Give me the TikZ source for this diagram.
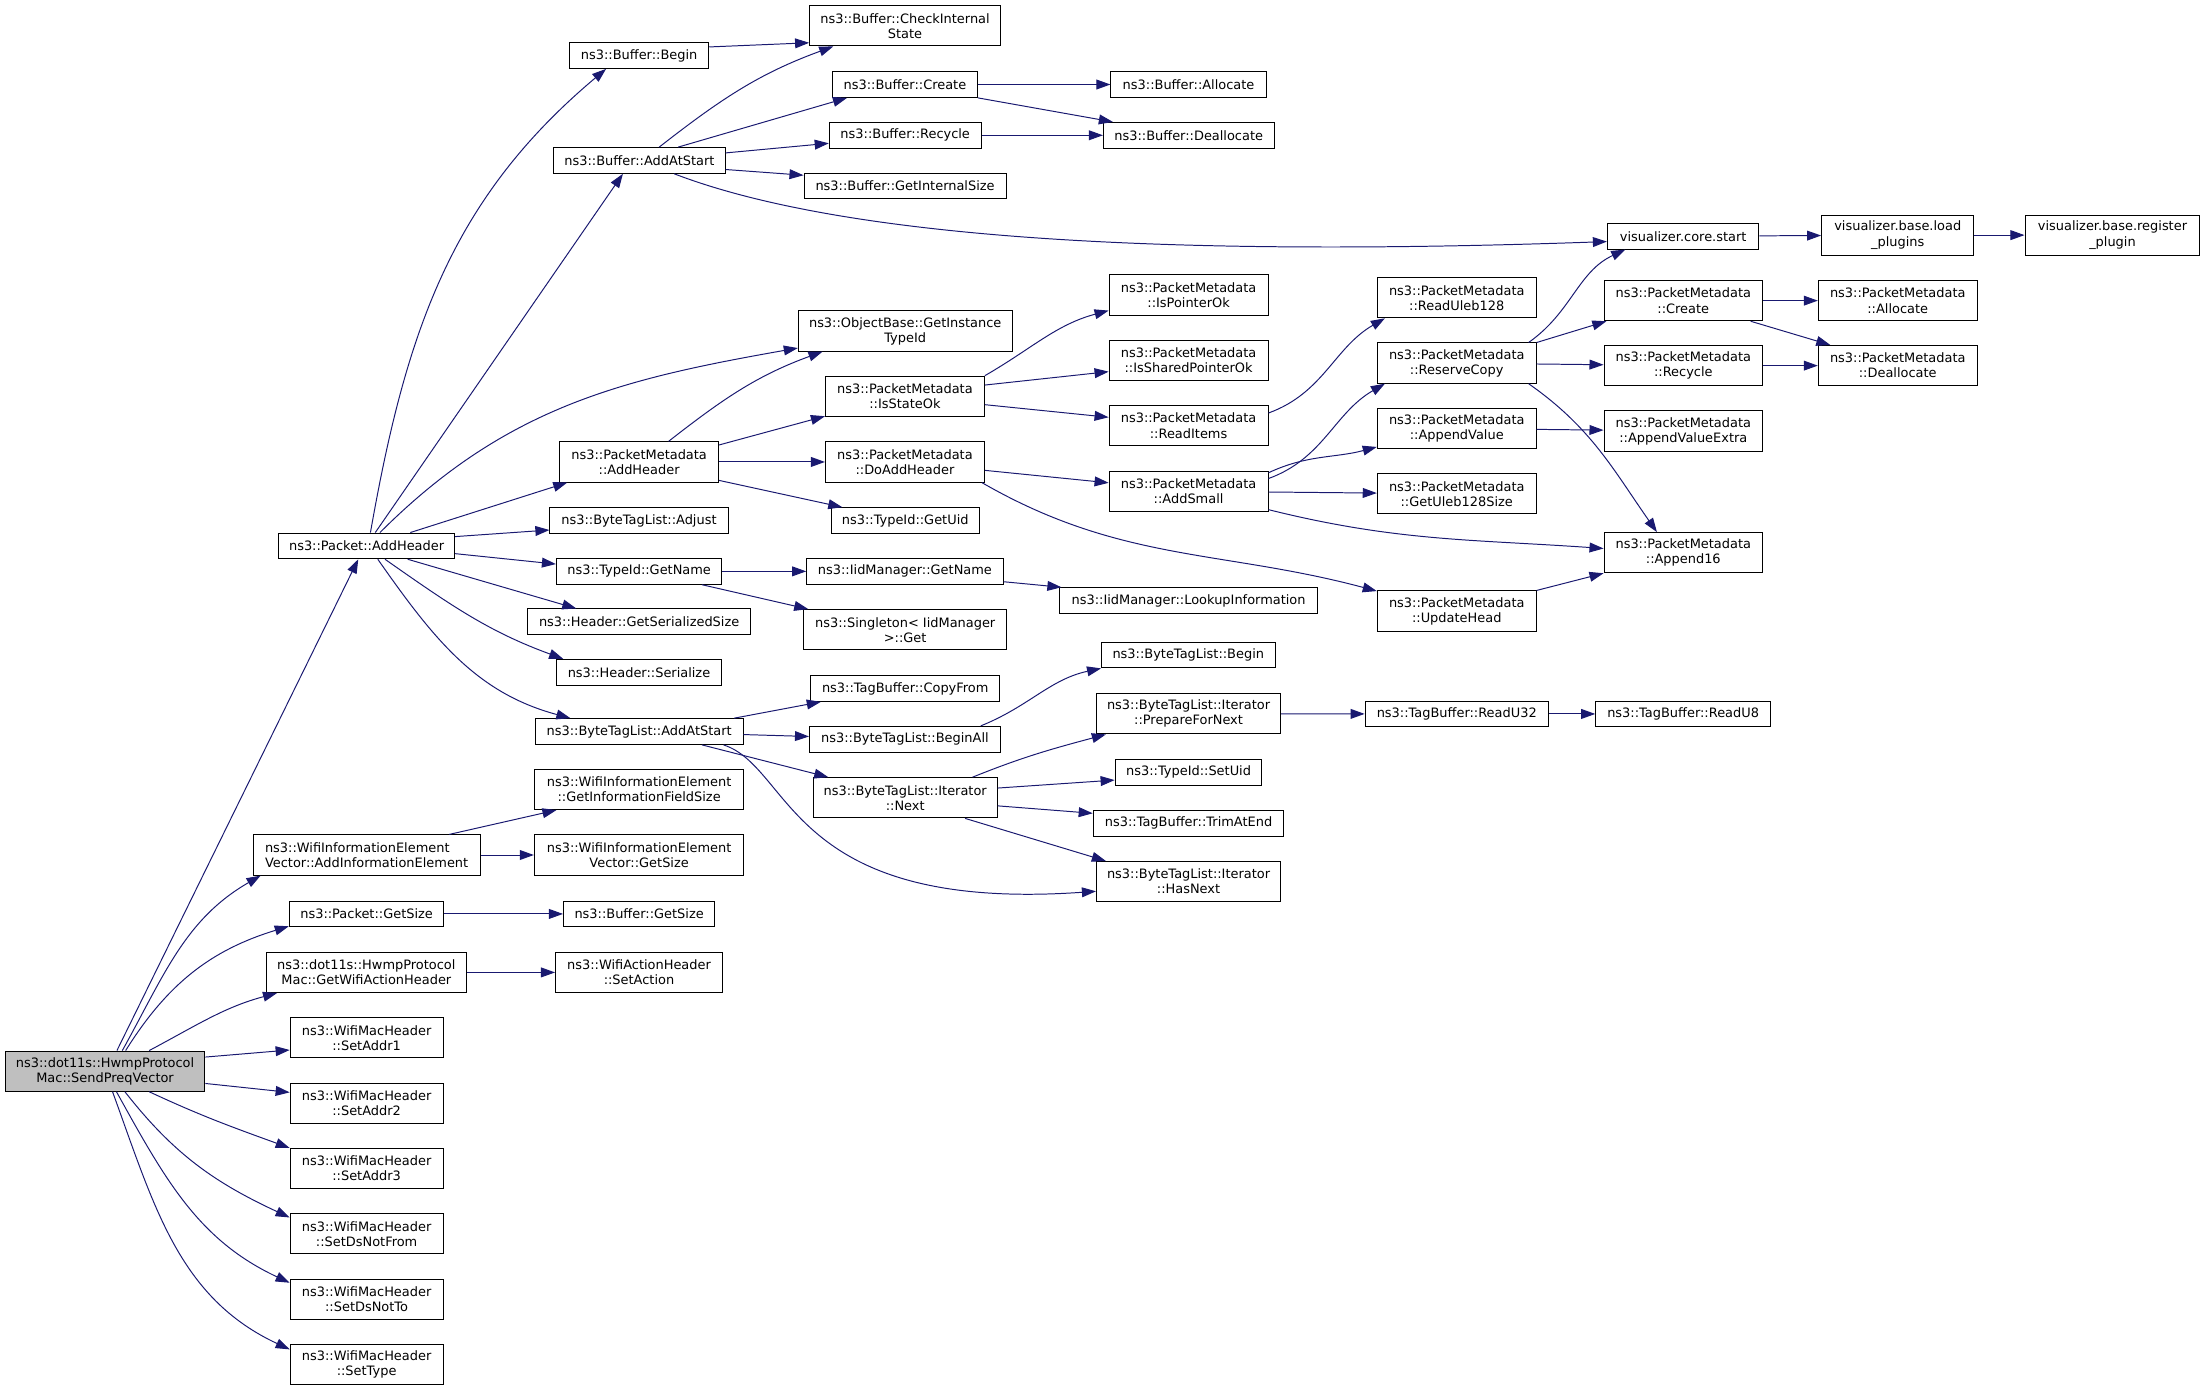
\documentclass[tikz,border=0pt]{standalone}
\usepackage{fontspec}
\setmainfont{DejaVu Sans}
\usepackage{xcolor}
\usepackage{tikz}
\usetikzlibrary{arrows.meta}
\definecolor{edgeblue}{HTML}{191970}
\definecolor{rootgray}{HTML}{BFBFBF}

\begin{document}
\begin{tikzpicture}[->,>={Triangle[length=10pt,width=7pt]},x=1pt,y=1pt]
  \tikzstyle{fn}=[draw=black,fill=white,line width=0.7pt,inner sep=1pt,minimum height=18.3pt,align=center,font=\fontsize{9.2}{10.7}\selectfont]
  \tikzstyle{fntwo}=[fn,minimum height=28.6pt]
  \tikzstyle{root}=[fntwo,fill=rootgray]
  \tikzstyle{every edge}=[draw=edgeblue,line width=0.7pt]

  \useasboundingbox (0,0) rectangle (1568,-989.2);

  % caller
  \node[root,minimum width=142pt]   (spv)   at (74.7,-761.7)  {ns3::dot11s::HwmpProtocol\\Mac::SendPreqVector};

  % first level
  \node[fn,minimum width=125.3pt]   (pah)   at (260.7,-388.2) {ns3::Packet::AddHeader};
  \node[fntwo,align=left,minimum width=161.3pt] (wiev) at (260.7,-608) {ns3::WifiInformationElement\\Vector::AddInformationElement};
  \node[fn,minimum width=110pt]     (pgs)   at (260.7,-649.9) {ns3::Packet::GetSize};
  \node[fntwo,minimum width=142.4pt] (gwah) at (260.5,-691.5) {ns3::dot11s::HwmpProtocol\\Mac::GetWifiActionHeader};
  \node[fntwo,minimum width=108.7pt] (sa1)  at (260.7,-738)   {ns3::WifiMacHeader\\::SetAddr1};
  \node[fntwo,minimum width=108.7pt] (sa2)  at (260.7,-784.5) {ns3::WifiMacHeader\\::SetAddr2};
  \node[fntwo,minimum width=108.7pt] (sa3)  at (260.7,-831)   {ns3::WifiMacHeader\\::SetAddr3};
  \node[fntwo,minimum width=108.7pt] (sdnf) at (260.7,-877.4) {ns3::WifiMacHeader\\::SetDsNotFrom};
  \node[fntwo,minimum width=108.7pt] (sdnt) at (260.7,-923.8) {ns3::WifiMacHeader\\::SetDsNotTo};
  \node[fntwo,minimum width=108.7pt] (sty)  at (260.7,-970.2) {ns3::WifiMacHeader\\::SetType};

  % second level
  \node[fn,minimum width=99pt]      (bbeg)  at (454.5,-39.5)  {ns3::Buffer::Begin};
  \node[fn,minimum width=122pt]     (baas)  at (454.7,-114.1) {ns3::Buffer::AddAtStart};
  \node[fntwo,minimum width=113pt]  (pmah)  at (454.5,-328.5) {ns3::PacketMetadata\\::AddHeader};
  \node[fn,minimum width=126.7pt]   (btla)  at (454.4,-370.2) {ns3::ByteTagList::Adjust};
  \node[fn,minimum width=117.6pt]   (tgn)   at (454.5,-406.3) {ns3::TypeId::GetName};
  \node[fn,minimum width=158.4pt]   (hgss)  at (454.5,-442.2) {ns3::Header::GetSerializedSize};
  \node[fn,minimum width=116.7pt]   (hser)  at (454.4,-478)   {ns3::Header::Serialize};
  \node[fn,minimum width=147.7pt]   (btaas) at (454.5,-520.2) {ns3::ByteTagList::AddAtStart};
  \node[fntwo,minimum width=149pt]  (wgifs) at (454.5,-561.4) {ns3::WifiInformationElement\\::GetInformationFieldSize};
  \node[fntwo,minimum width=149pt]  (wgs)   at (454.5,-608)   {ns3::WifiInformationElement\\Vector::GetSize};
  \node[fn,minimum width=107.6pt]   (bgs)   at (454.5,-649.9) {ns3::Buffer::GetSize};
  \node[fntwo,minimum width=118.7pt] (wsa)  at (454.4,-691.5) {ns3::WifiActionHeader\\::SetAction};

  % third level
  \node[fntwo,minimum width=135.7pt] (bcis) at (643.6,-18.4)  {ns3::Buffer::CheckInternal\\State};
  \node[fn,minimum width=103pt]     (bcre)  at (643.5,-60.1)  {ns3::Buffer::Create};
  \node[fn,minimum width=108pt]     (brec)  at (643.7,-96.2)  {ns3::Buffer::Recycle};
  \node[fn,minimum width=143.7pt]   (bgis)  at (643.6,-132.2) {ns3::Buffer::GetInternalSize};
  \node[fntwo,minimum width=152pt]  (ogit)  at (643.7,-235.4) {ns3::ObjectBase::GetInstance\\TypeId};
  \node[fntwo,minimum width=113pt]  (piso)  at (643.5,-281.8) {ns3::PacketMetadata\\::IsStateOk};
  \node[fntwo,minimum width=113pt]  (pdah)  at (643.5,-328.5) {ns3::PacketMetadata\\::DoAddHeader};
  \node[fn,minimum width=105.4pt]   (tgu)   at (643.7,-370.2) {ns3::TypeId::GetUid};
  \node[fn,minimum width=139.7pt]   (igN)   at (643.5,-406.3) {ns3::IidManager::GetName};
  \node[fntwo,minimum width=144pt]  (sget)  at (643.7,-447.8) {ns3::Singleton< IidManager\\ >::Get};
  \node[fn,minimum width=134.6pt]   (tcf)   at (643.7,-489.6) {ns3::TagBuffer::CopyFrom};
  \node[fn,minimum width=135.7pt]   (bta)   at (643.5,-525.7) {ns3::ByteTagList::BeginAll};
  \node[fntwo,minimum width=130.6pt] (itn)  at (643.7,-567.3) {ns3::ByteTagList::Iterator\\::Next};

  % fourth level
  \node[fn,minimum width=110.4pt]   (ball)  at (845.2,-60.1)  {ns3::Buffer::Allocate};
  \node[fn,minimum width=121.3pt]   (bdea)  at (845.3,-96.2)  {ns3::Buffer::Deallocate};
  \node[fntwo,minimum width=113pt]  (pipo)  at (845.2,-209.8) {ns3::PacketMetadata\\::IsPointerOk};
  \node[fntwo,minimum width=113pt]  (pisp)  at (845.2,-256.3) {ns3::PacketMetadata\\::IsSharedPointerOk};
  \node[fntwo,minimum width=113pt]  (prit)  at (845.2,-302.7) {ns3::PacketMetadata\\::ReadItems};
  \node[fntwo,minimum width=113pt]  (pas)   at (845.2,-349.3) {ns3::PacketMetadata\\::AddSmall};
  \node[fn,minimum width=183pt]     (ilook) at (845.2,-427.1) {ns3::IidManager::LookupInformation};
  \node[fn,minimum width=123.3pt]   (btbeg) at (845,-465.8)   {ns3::ByteTagList::Begin};
  \node[fntwo,minimum width=131pt]  (ipfn)  at (845.2,-507.6) {ns3::ByteTagList::Iterator\\::PrepareForNext};
  \node[fn,minimum width=104.4pt]   (tsu)   at (845.2,-549.2) {ns3::TypeId::SetUid};
  \node[fn,minimum width=135.6pt]   (ttae)  at (845.2,-585.5) {ns3::TagBuffer::TrimAtEnd};
  \node[fntwo,minimum width=131pt]  (ihn)   at (845.2,-626.9) {ns3::ByteTagList::Iterator\\::HasNext};

  % fifth level
  \node[fntwo,minimum width=113pt]  (pru)   at (1035.9,-211.7) {ns3::PacketMetadata\\::ReadUleb128};
  \node[fntwo,minimum width=113pt]  (prc)   at (1035.9,-258.2) {ns3::PacketMetadata\\::ReserveCopy};
  \node[fntwo,minimum width=113pt]  (pav)   at (1035.9,-304.7) {ns3::PacketMetadata\\::AppendValue};
  \node[fntwo,minimum width=113pt]  (pgus)  at (1035.9,-351.2) {ns3::PacketMetadata\\::GetUleb128Size};
  \node[fntwo,minimum width=113pt]  (puh)   at (1035.9,-434.5) {ns3::PacketMetadata\\::UpdateHead};
  \node[fn,minimum width=130.3pt]   (trU32) at (1035.9,-507.7) {ns3::TagBuffer::ReadU32};

  % sixth level and beyond
  \node[fn,minimum width=107.7pt]   (vcs)   at (1196.9,-168)  {visualizer.core.start};
  \node[fntwo,minimum width=112.7pt] (pcre) at (1197,-213.8)  {ns3::PacketMetadata\\::Create};
  \node[fntwo,minimum width=112.7pt] (prec) at (1197,-260)    {ns3::PacketMetadata\\::Recycle};
  \node[fntwo,minimum width=112.7pt] (pave) at (1197,-306.5)  {ns3::PacketMetadata\\::AppendValueExtra};
  \node[fntwo,minimum width=112.7pt] (pa16) at (1197,-393)    {ns3::PacketMetadata\\::Append16};
  \node[fn,minimum width=124.3pt]   (trU8)  at (1196.9,-507.7) {ns3::TagBuffer::ReadU8};
  \node[fntwo,minimum width=108.3pt] (vblp) at (1349.5,-167.2) {visualizer.base.load\\\_plugins};
  \node[fntwo,minimum width=113pt]  (pall)  at (1349.5,-213.8) {ns3::PacketMetadata\\::Allocate};
  \node[fntwo,minimum width=113pt]  (pdea)  at (1349.5,-260)   {ns3::PacketMetadata\\::Deallocate};
  \node[fntwo,minimum width=124.4pt] (vbrp) at (1502.2,-167.2) {visualizer.base.register\\\_plugin};

  % calls
  \path (spv.60) edge (pah.238)
        (spv.50) edge[out=61,in=210] (wiev.191)
        (spv.45) edge[out=58,in=197] (pgs.189)
        (spv.25) edge[out=28,in=195] (gwah.193)
        (spv.8) edge (sa1.189)
        (spv.-7) edge (sa2.172)
        (spv.-25) edge[out=-25,in=160] (sa3.165)
        (spv.-46) edge[out=-52,in=155] (sdnf.168)
        (spv.-61) edge[out=-61,in=155] (sdnt.168)
        (spv.-70) edge[out=-70,in=155] (sty.169)
        (pah.74) edge[out=80,in=220] (bbeg.202)
        (pah.57) edge (baas.219)
        (pah.45) edge[out=45,in=190] (ogit.189)
        (pah.17) edge (pmah.196)
        (pah.6) edge (btla.186)
        (pah.-5) edge (tgn.175)
        (pah.-18) edge (hgss.168)
        (pah.-36) edge[out=-35,in=160] (hser.170)
        (pah.-50) edge[out=-55,in=165] (btaas.169)
        (bbeg.7) edge (bcis.190)
        (baas.34) edge[out=38,in=200] (bcis.196)
        (baas.19) edge (bcre.193)
        (baas.5) edge (brec.186)
        (baas.-6) edge (bgis.174)
        (baas.-21) edge[out=-21,in=182,out distance=150pt,in distance=250pt] (vcs.184)
        (bcre) edge (ball)
        (bcre.south east) edge (bdea.170)
        (brec) edge (bdea)
        (vcs) edge (vblp)
        (vblp) edge (vbrp)
        (pmah.35) edge[out=38,in=200] (ogit.194)
        (pmah.12) edge (piso.194)
        (pmah) edge (pdah)
        (pmah.-13) edge (tgu.168)
        (piso.north east) edge[out=30,in=195] (pipo.191)
        (piso.8) edge (pisp.188)
        (piso.-6) edge (prit.174)
        (prit.9) edge[out=20,in=210] (pru.196)
        (pdah.-6) edge (pas.174)
        (pdah.-15) edge[out=-30,in=165] (puh.166)
        (pas.9) edge[out=20,in=210] (prc.196)
        (pas.13) edge[out=25,in=195] (pav.193)
        (pas) edge (pgus)
        (pas.-13) edge[out=-14,in=176] (pa16.177)
        (prc.16) edge[out=35,in=205] (vcs.193)
        (prc.north east) edge (pcre.195)
        (prc) edge (prec)
        (prc.-16) edge[out=-35,in=125] (pa16.142)
        (pcre) edge (pall)
        (pcre.-17) edge (pdea.163)
        (prec) edge (pdea)
        (pav) edge (pave)
        (puh.north east) edge (pa16.south west)
        (tgn) edge (igN)
        (tgn.-12) edge (sget.168)
        (igN.-6) edge (ilook.174)
        (btaas.8) edge (tcf.189)
        (btaas) edge (bta)
        (btaas.-12) edge (itn.165)
        (btaas.-9) edge[out=-18,in=184,out distance=52pt,in distance=220pt] (ihn.186)
        (bta.10) edge[out=22,in=192] (btbeg.south west)
        (itn.17) edge[out=22,in=195] (ipfn.194)
        (itn.6) edge (tsu.186)
        (itn.-5) edge (ttae.174)
        (itn.-19) edge (ihn.166)
        (ipfn) edge (trU32)
        (trU32) edge (trU8)
        (wiev.14) edge (wgifs.194)
        (wiev) edge (wgs)
        (pgs) edge (bgs)
        (gwah) edge (wsa);
\end{tikzpicture}
\end{document}
